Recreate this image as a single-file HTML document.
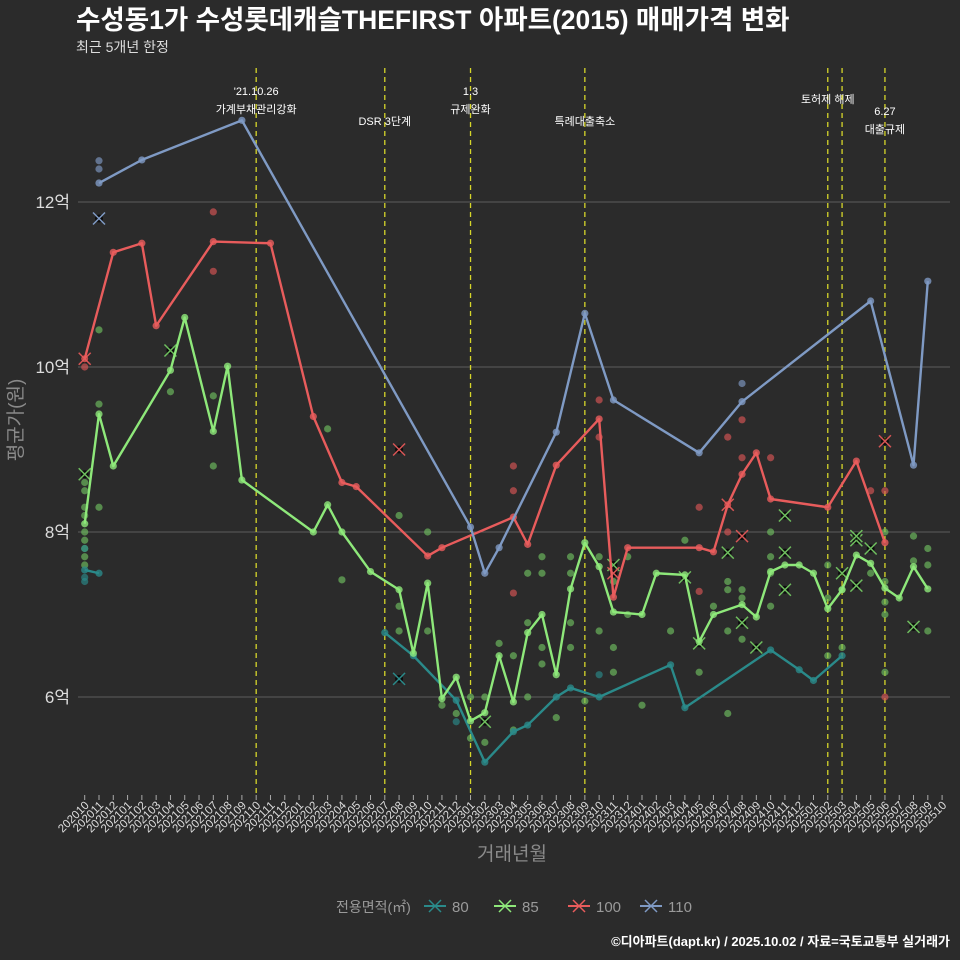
<!DOCTYPE html>
<html><head><meta charset="utf-8">
<style>
html,body{margin:0;padding:0;background:#2b2b2b;}
svg{display:block;font-family:"Liberation Sans","Noto Sans CJK KR",sans-serif;}
</style></head>
<body>
<svg id="chart" width="960" height="960" viewBox="0 0 960 960">
<rect width="960" height="960" fill="#2b2b2b"/>
<text x="76" y="29" fill="#ffffff" font-size="26.5" font-weight="bold">수성동1가 수성롯데캐슬THEFIRST 아파트(2015) 매매가격 변화</text>
<text x="76" y="52" fill="#dddddd" font-size="14">최근 5개년 한정</text>
<g id="grid"></g><g id="events"></g><g id="series"></g><g id="xaxis"></g><g id="yaxis"></g>
<text transform="translate(22,420) rotate(-90)" text-anchor="middle" fill="#8a8a8a" font-size="19">평균가(원)</text>
<text x="512" y="860" text-anchor="middle" fill="#8a8a8a" font-size="19">거래년월</text>
<g id="legend">
<text x="336" y="912" fill="#9a9a9a" font-size="14">전용면적(㎡)</text>
</g>
<text x="950" y="946" text-anchor="end" fill="#ffffff" font-size="13" font-weight="bold">©디아파트(dapt.kr) / 2025.10.02 / 자료=국토교통부 실거래가</text>
</svg>
<script>
// ---- data ----
const months = [];
for (let i = 0; i <= 60; i++) { const y = 2020 + Math.floor((9 + i) / 12); const m = (9 + i) % 12 + 1; months.push(y + (m < 10 ? '0' : '') + m); }
const yTicks = [6, 8, 10, 12];
const yTickLabels = ['6억', '8억', '10억', '12억'];
const seriesNames = ['80', '85', '100', '110'];
const seriesColors = ['#2a8a8a', '#8ee87a', '#e85c5c', '#7f9ac4'];
// line series: [monthIndex, value(억)]
const line80a = [[0,7.54],[1,7.5]];
const line80b = [[21,6.78],[23,6.5],[26,5.96],[28,5.21],[30,5.58],[31,5.66],[33,6.0],[34,6.11],[36,6.0],[41,6.39],[42,5.87],[48,6.57],[50,6.33],[51,6.2],[53,6.5]];
const line85 = [[0,8.1],[1,9.43],[2,8.8],[6,9.96],[7,10.6],[9,9.22],[10,10.01],[11,8.63],[16,8.0],[17,8.33],[18,8.0],[20,7.52],[22,7.3],[23,6.53],[24,7.38],[25,5.98],[26,6.24],[27,5.71],[28,5.81],[29,6.5],[30,5.94],[31,6.78],[32,7.0],[33,6.27],[34,7.31],[35,7.87],[36,7.58],[37,7.03],[39,7.0],[40,7.5],[42,7.48],[43,6.67],[44,7.0],[46,7.12],[47,6.97],[48,7.52],[49,7.6],[50,7.6],[51,7.5],[52,7.07],[53,7.3],[54,7.72],[55,7.62],[56,7.32],[57,7.2],[58,7.58],[59,7.31]];
const line100 = [[0,10.1],[2,11.39],[4,11.5],[5,10.5],[9,11.52],[13,11.5],[16,9.4],[18,8.6],[19,8.55],[24,7.71],[25,7.81],[30,8.18],[31,7.85],[33,8.81],[36,9.37],[37,7.21],[38,7.81],[43,7.81],[44,7.76],[45,8.33],[46,8.7],[47,8.96],[48,8.4],[52,8.3],[54,8.86],[56,7.87]];
const line110 = [[1,12.23],[4,12.51],[11,12.99],[27,8.06],[28,7.5],[29,7.81],[33,9.21],[35,10.65],[37,9.6],[43,8.96],[46,9.58],[55,10.8],[58,8.81],[59,11.04]];
// scatter: [monthIndex, value, isCross(1/0)]
const pts80 = [[0,7.4,0],[0,7.45,0],[0,7.8,0],[26,5.7,0],[36,6.27,0],[22,6.22,1]];
const pts85 = [[0,8.7,1],[0,8.6,0],[0,8.5,0],[0,8.3,0],[0,8.2,0],[0,8.0,0],[0,7.9,0],[0,7.8,0],[0,7.7,0],[0,7.6,0],[1,10.45,0],[1,9.55,0],[1,8.3,0],[6,10.2,1],[6,9.7,0],[9,9.65,0],[9,8.8,0],[17,9.25,0],[18,7.42,0],[22,8.2,0],[22,7.1,0],[22,6.8,0],[24,8.0,0],[24,6.8,0],[25,5.9,0],[26,5.8,0],[27,5.5,0],[27,6.0,0],[28,5.7,1],[28,5.45,0],[28,6.0,0],[29,6.65,0],[30,6.5,0],[30,5.6,0],[31,7.5,0],[31,6.9,0],[31,6.0,0],[32,7.7,0],[32,7.5,0],[32,6.6,0],[32,6.4,0],[33,5.75,0],[34,7.7,0],[34,7.5,0],[34,6.9,0],[34,6.6,0],[35,5.95,0],[36,7.7,0],[36,6.8,0],[37,7.6,1],[37,7.4,0],[37,6.6,0],[37,6.3,0],[38,7.7,0],[38,7.0,0],[39,5.9,0],[41,6.8,0],[42,7.9,0],[42,7.45,1],[43,6.65,1],[43,6.3,0],[44,7.1,0],[45,7.75,1],[45,7.4,0],[45,7.3,0],[45,6.8,0],[45,5.8,0],[46,7.3,0],[46,7.2,0],[46,6.9,1],[46,6.7,0],[47,6.6,1],[48,8.0,0],[48,7.7,0],[48,7.5,0],[48,7.1,0],[49,8.2,1],[49,7.75,1],[49,7.3,1],[52,7.6,0],[52,7.2,0],[52,6.5,0],[53,7.5,1],[53,7.3,0],[53,6.6,0],[54,7.9,1],[54,7.95,1],[54,7.35,1],[55,7.8,1],[55,7.5,0],[56,8.0,0],[56,7.4,0],[56,7.15,0],[56,7.0,0],[56,6.3,0],[58,7.95,0],[58,7.65,0],[58,6.85,1],[59,7.8,0],[59,7.6,0],[59,6.8,0]];
const pts100 = [[0,10.0,0],[0,10.1,1],[9,11.88,0],[9,11.16,0],[22,9.0,1],[30,8.8,0],[30,8.5,0],[30,7.26,0],[36,9.6,0],[36,9.15,0],[37,7.5,1],[43,8.3,0],[43,7.28,0],[45,9.15,0],[45,8.33,1],[45,8.0,0],[46,9.36,0],[46,8.9,0],[46,7.95,1],[48,8.9,0],[55,8.5,0],[56,9.1,1],[56,8.5,0],[56,6.0,0]];
const pts110 = [[1,12.5,0],[1,12.4,0],[1,11.8,1],[46,9.8,0]];
const eventMonths = [12, 21, 27, 35, 52, 53, 56];
const eventLabels = [["'21.10.26","가계부채관리강화"],["DSR 3단계"],["1.3","규제완화"],["특례대출축소"],["토허제 해제"],[],["6.27","대출규제"]];
</script>
<script>
const NS = 'http://www.w3.org/2000/svg';
const X = i => 84.7 + 14.29 * i;
const Y = v => 697 - (v - 6) * 82.5;
function mk(tag, attrs, parent) { const e = document.createElementNS(NS, tag); for (const k in attrs) e.setAttribute(k, attrs[k]); parent.appendChild(e); return e; }
const grid = document.getElementById('grid'), yaxis = document.getElementById('yaxis'), xaxis = document.getElementById('xaxis');
yTicks.forEach((t, k) => {
  const l = mk('line', {x1: 78, x2: 950, y1: Y(t), y2: Y(t), stroke: '#5e5e5e', 'stroke-width': 1}, grid);
  
  
  const tx = mk('text', {x: 70, y: Y(t) + 6, 'text-anchor': 'end', fill: '#dddddd', 'font-size': 17}, yaxis);
  tx.textContent = yTickLabels[k];
  
  
});
months.forEach((m, i) => {
  const x = X(i);
  const tk = mk('line', {x1: x, x2: x, y1: 795, y2: 800, stroke: '#aaaaaa', 'stroke-width': 1}, xaxis);
  
  
  const tx = mk('text', {x: 0, y: 0, transform: 'translate(' + (x + 5) + ',806) rotate(-45)', 'text-anchor': 'end', fill: '#dddddd', 'font-size': 11.5}, xaxis);
  tx.textContent = m;
  
  
});
const ev = document.getElementById('events');
eventMonths.forEach((m, k) => {
  const x = X(m);
  const l = mk('line', {x1: x, x2: x, y1: 68, y2: 795, stroke: '#d6d62a', 'stroke-width': 1.3, 'stroke-dasharray': '5,4'}, ev);
  
  
  const lab = eventLabels[k];
  let y0 = 95;
  if (m === 21 || m === 35) y0 = 125;
  if (m === 52) y0 = 103;
  if (m === 56) y0 = 115;
  lab.forEach((s, j) => {
    const t = mk('text', {x: x, y: y0 + j * 18, 'text-anchor': 'middle', fill: '#ffffff', 'font-size': 11}, ev);
    t.textContent = s;
    
    
  });
});
const sg = document.getElementById('series');
function drawPts(pts, col, name) {
  pts.forEach(p => {
    const x = X(p[0]), y = Y(p[1]);
    if (p[2]) {
      const g = mk('g', {}, sg);
      
      
      mk('circle', {cx: x, cy: y, r: 4, fill: '#000', opacity: 0.7}, g);
      mk('path', {d: `M${x-6},${y-6}L${x+6},${y+6}M${x-6},${y+6}L${x+6},${y-6}`, stroke: col, 'stroke-width': 1.5}, g);
    } else {
      const c = mk('circle', {cx: x, cy: y, r: 3.6, fill: col, opacity: 0.65}, sg);
      
      
    }
  });
}
function drawLine(data, col, name) {
  const p = mk('polyline', {points: data.map(d => X(d[0]) + ',' + Y(d[1])).join(' '), fill: 'none', stroke: col, 'stroke-width': 2.4, 'stroke-linejoin': 'round'}, sg);
  
  
  data.forEach(d => {
    const c = mk('circle', {cx: X(d[0]), cy: Y(d[1]), r: 3.6, fill: col, opacity: 0.8}, sg);
    
    
  });
}
drawPts(pts85, '#6fbf5f', '85');
drawPts(pts80, '#2a8a8a', '80');
drawPts(pts100, '#d85555', '100');
drawPts(pts110, '#7f9ac4', '110');
drawLine(line80a, seriesColors[0], '80');
drawLine(line80b, seriesColors[0], '80');
drawLine(line85, seriesColors[1], '85');
drawLine(line100, seriesColors[2], '100');
drawLine(line110, seriesColors[3], '110');
const lg = document.getElementById('legend');
const lx = [424, 494, 568, 640];
seriesNames.forEach((n, k) => {
  const g = mk('g', {}, lg);
  
  
  const x = lx[k];
  mk('line', {x1: x, x2: x + 22, y1: 906, y2: 906, stroke: seriesColors[k], 'stroke-width': 2}, g);
  mk('path', {d: `M${x+5},${900}L${x+17},${912}M${x+5},${912}L${x+17},${900}`, stroke: seriesColors[k], 'stroke-width': 1.5}, g);
  const t = mk('text', {x: x + 28, y: 912, fill: '#9a9a9a', 'font-size': 15}, g);
  t.textContent = n;
});
</script>
</body></html>
